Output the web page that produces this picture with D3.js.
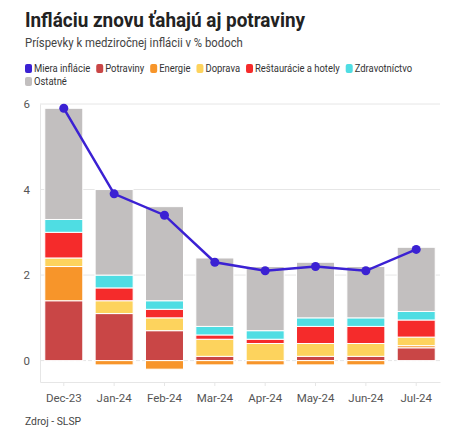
<!DOCTYPE html>
<html>
<head>
<meta charset="utf-8">
<script src="https://cdn.jsdelivr.net/npm/d3@7"></script>
<style>
  body { margin: 0; background: #fff; }
  svg text { font-family: Roboto, "Noto Sans", sans-serif; }
</style>
</head>
<body>
<svg id="chart"></svg>
<script>
// data
const months = ["Dec-23", "Jan-24", "Feb-24", "Mar-24", "Apr-24", "May-24", "Jun-24", "Jul-24"];
const inflation = [5.9, 3.9, 3.4, 2.3, 2.1, 2.2, 2.1, 2.6];
const potraviny = [1.4, 1.1, 0.7, 0.1, 0.0, 0.1, 0.1, 0.3];
const energie = [0.8, -0.1, -0.2, -0.1, -0.1, -0.1, -0.1, 0.05];
const doprava = [0.2, 0.3, 0.3, 0.4, 0.4, 0.3, 0.3, 0.2];
const restauracie = [0.6, 0.3, 0.2, 0.1, 0.1, 0.4, 0.4, 0.4];
const zdravotnictvo = [0.3, 0.3, 0.2, 0.2, 0.2, 0.2, 0.2, 0.2];
const ostatne = [2.6, 2.0, 2.2, 1.6, 1.5, 1.3, 1.2, 1.5];
const yTicks = [0, 2, 4, 6];

const seriesNames = ["Potraviny", "Energie", "Doprava", "Reštaurácie a hotely", "Zdravotníctvo", "Ostatné"];
const seriesValues = [potraviny, energie, doprava, restauracie, zdravotnictvo, ostatne];
const colors = ["#c94646", "#f7952a", "#fdd35d", "#f52b2b", "#4fdde3", "#c2bfbf"];
const lineColor = "#3b21d3";

const W = 474, H = 436;
const margin = {top: 104, right: 34, bottom: 54, left: 40};

const svg = d3.select("#chart").attr("width", W).attr("height", H);

// squeeze text a little to look like the condensed face of the original
function squeeze(sel, k) {
    sel.each(function(){
        const len = this.getComputedTextLength();
        d3.select(this).attr("textLength", len * k).attr("lengthAdjust", "spacingAndGlyphs");
    });
}

svg.append("text")
    .attr("x", 25).attr("y", 27)
    .attr("font-size", 21).attr("font-weight", 700).attr("fill", "#222")
    .text("Infláciu znovu ťahajú aj potraviny")
    .call(squeeze, 0.9);

svg.append("text")
    .attr("x", 25).attr("y", 47)
    .attr("font-size", 13.5).attr("fill", "#444")
    .text("Príspevky k medziročnej inflácii v % bodoch")
    .call(squeeze, 0.84);

// legend
const legendItems = [{name: "Miera inflácie", color: lineColor}]
    .concat(seriesNames.map((n, i) => ({name: n, color: colors[i]})));
const legend = svg.append("g");
let lx = 25, ly = 68;
legendItems.forEach(d => {
    const g = legend.append("g");
    const t = g.append("text")
        .attr("font-size", 11.5).attr("fill", "#333")
        .text(d.name)
        .call(squeeze, 0.82);
    const tw = +t.attr("textLength");
    if (lx + 10 + tw > W - 20) { lx = 25; ly += 13; }
    g.append("rect")
        .attr("x", lx).attr("y", ly - 4).attr("width", 7).attr("height", 9)
        .attr("rx", 2).attr("fill", d.color);
    t.attr("x", lx + 9).attr("y", ly + 4);
    lx += 9 + tw + 6;
});

// scales
const x = d3.scaleBand().domain(months)
    .range([margin.left, W - margin.right])
    .paddingInner(0.245).paddingOuter(0.095);
const y = d3.scaleLinear().domain([-0.5, 6]).range([H - margin.bottom, margin.top]);

// grid
svg.append("g").selectAll("line").data(yTicks).join("line")
    .attr("x1", margin.left).attr("x2", W - margin.right)
    .attr("y1", d => y(d)).attr("y2", d => y(d))
    .attr("stroke", "#e6e6e6").attr("stroke-width", 1)
    .attr("stroke-dasharray", d => d === 0 ? "4,2" : null);

// y axis
const yAxis = svg.append("g")
    .attr("transform", `translate(${margin.left},0)`)
    .call(d3.axisLeft(y).tickValues(yTicks).tickFormat(d3.format("d")).tickSize(0).tickPadding(10));
yAxis.select(".domain").attr("stroke", "#e6e6e6");
yAxis.selectAll("text").attr("font-size", 11.5).attr("fill", "#555")
    .style("font-family", "Roboto");

// stacked bars (positive and negative stacked separately)
const table = months.map((m, i) => {
    const row = {month: m};
    seriesNames.forEach((n, j) => row[n] = seriesValues[j][i]);
    return row;
});
const stacked = d3.stack().keys(seriesNames).offset(d3.stackOffsetDiverging)(table);

svg.append("g").selectAll("g").data(stacked).join("g")
    .attr("fill", (d, i) => colors[i])
    .selectAll("rect").data(d => d).join("rect")
    .attr("x", d => x(d.data.month))
    .attr("width", x.bandwidth())
    .attr("y", d => y(Math.max(d[0], d[1])))
    .attr("height", d => Math.abs(y(d[0]) - y(d[1])))
    .attr("stroke", "#fff").attr("stroke-width", 1);

// x axis
const xAxis = svg.append("g")
    .attr("transform", `translate(0,${H - margin.bottom})`)
    .call(d3.axisBottom(x).tickSize(4).tickPadding(8).tickSizeOuter(0));
xAxis.select(".domain").attr("stroke", "#e6e6e6");
xAxis.selectAll(".tick line").attr("stroke", "#e6e6e6");
xAxis.selectAll("text").attr("font-size", 11.5).attr("fill", "#555")
    .style("font-family", "Roboto");

// inflation line
const cx = d => x(d) + x.bandwidth() / 2;
svg.append("path")
    .datum(inflation)
    .attr("fill", "none").attr("stroke", lineColor).attr("stroke-width", 2.5)
    .attr("d", d3.line().x((d, i) => cx(months[i])).y(d => y(d)));
svg.append("g").selectAll("circle").data(inflation).join("circle")
    .attr("cx", (d, i) => cx(months[i])).attr("cy", d => y(d))
    .attr("r", 4.5).attr("fill", lineColor);

svg.append("text")
    .attr("x", 25).attr("y", 425)
    .attr("font-size", 11.5).attr("fill", "#444")
    .text("Zdroj - SLSP")
    .call(squeeze, 0.9);
</script>
</body>
</html>
